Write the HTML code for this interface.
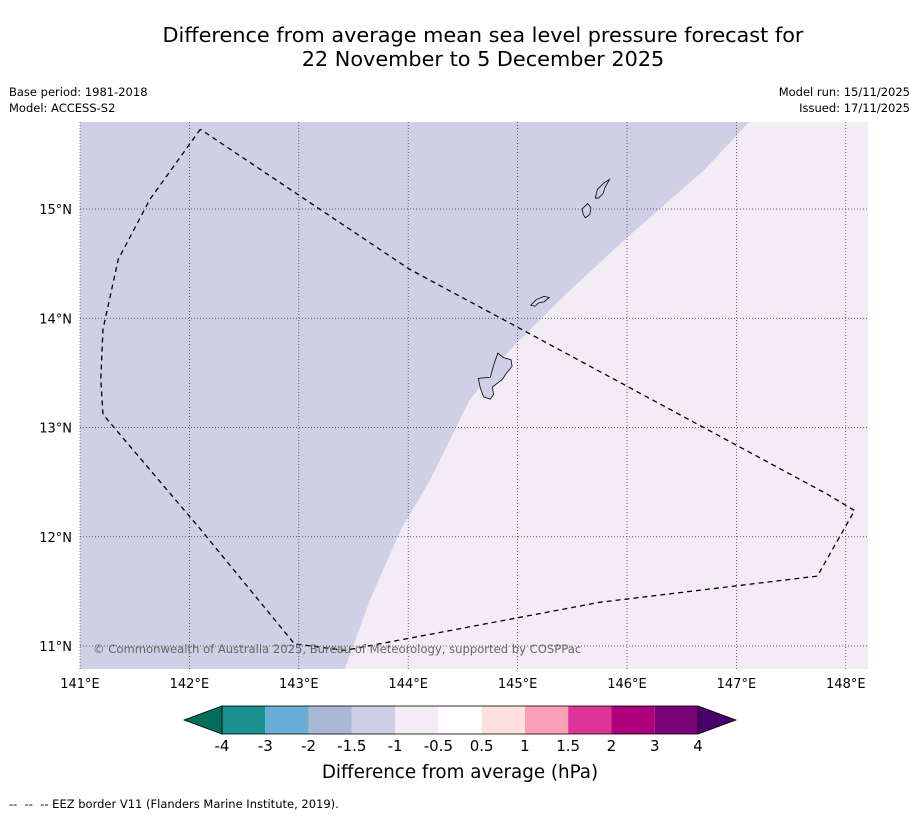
<!DOCTYPE html>
<html><head><meta charset="utf-8"><style>
body{margin:0;background:#fff;font-family:"Liberation Sans","DejaVu Sans",sans-serif;}
svg text{font-family:"DejaVu Sans","Liberation Sans",sans-serif;}
</style></head><body>
<svg id="c" width="919" height="816" viewBox="0 0 919 816" xmlns="http://www.w3.org/2000/svg">
<rect width="919" height="816" fill="#fff"/>
<text x="483" y="42" font-size="20.8" text-anchor="middle">Difference from average mean sea level pressure forecast for</text>
<text x="483" y="66" font-size="20.8" text-anchor="middle">22 November to 5 December 2025</text>
<text x="9" y="96" font-size="11.5">Base period: 1981-2018</text>
<text x="9" y="112" font-size="11.5">Model: ACCESS-S2</text>
<text x="910" y="96" font-size="11.5" text-anchor="end">Model run: 15/11/2025</text>
<text x="910" y="112" font-size="11.5" text-anchor="end">Issued: 17/11/2025</text>
<g id="map"></g>
<g id="cbar"></g>
<text x="460" y="778" font-size="18.3" text-anchor="middle">Difference from average (hPa)</text>
<text x="9" y="808" font-size="11.5" xml:space="preserve" style="white-space:pre">--  --  -- EEZ border V11 (Flanders Marine Institute, 2019).</text>
</svg>
<script>
// data (lon/lat)
const lonTicks=[141,142,143,144,145,146,147,148];
const latTicks=[11,12,13,14,15];
const anomalyBoundary=[[147.12,15.8],[146.71,15.36],[145.98,14.72],[145.43,14.21],[144.93,13.71],[144.56,13.25],[144.2,12.52],[143.93,12.06],[143.65,11.42],[143.42,10.79]];
const eez=[[142.1,15.73],[141.64,15.09],[141.35,14.54],[141.21,13.9],[141.19,13.44],[141.21,13.12],[142.1,12.07],[142.96,11.02],[143.42,10.96],[143.74,11.02],[145.75,11.4],[147.74,11.64],[148.08,12.24],[147.83,12.39],[145.2,13.81],[144.01,14.45],[142.1,15.73]];
const guam=[[144.64,13.45],[144.66,13.36],[144.69,13.28],[144.75,13.26],[144.78,13.3],[144.77,13.37],[144.86,13.44],[144.9,13.5],[144.95,13.56],[144.94,13.62],[144.87,13.64],[144.82,13.68],[144.79,13.6],[144.75,13.46],[144.64,13.45]];
const rota=[[145.12,14.12],[145.17,14.17],[145.24,14.2],[145.29,14.19],[145.24,14.15],[145.19,14.14],[145.16,14.11],[145.12,14.12]];
const tinian=[[145.6,14.95],[145.59,15.0],[145.64,15.05],[145.67,15.01],[145.66,14.95],[145.62,14.92],[145.6,14.95]];
const saipan=[[145.71,15.1],[145.73,15.18],[145.79,15.24],[145.84,15.27],[145.8,15.2],[145.78,15.14],[145.74,15.1],[145.71,15.1]];
const classColors=["#1a9090","#6aaed6","#a9b8d6","#cfd0e6","#f3ecf5","#ffffff","#fde0dd","#f9a0b8","#dd3497","#ae017e","#7a0177"];
const classLabels=["-4","-3","-2","-1.5","-1","-0.5","0.5","1","1.5","2","3","4"];
const NS="http://www.w3.org/2000/svg";
const X0=80,X1=868,Y0=122,Y1=669;
const xs=lon=>80+(lon-141)*109.4;
const ys=lat=>209+(15-lat)*109.25;
function mk(t,a,p){const e=document.createElementNS(NS,t);for(const k in a)e.setAttribute(k,a[k]);p.appendChild(e);return e;}
const map=document.getElementById('map');
const defs=mk('defs',{},map);const cp=mk('clipPath',{id:'clip'},defs);mk('rect',{x:X0,y:Y0,width:X1-X0,height:Y1-Y0},cp);
const bg=mk('rect',{x:X0,y:Y0,width:X1-X0,height:Y1-Y0,fill:"#cfd0e6"},map);

let pts=anomalyBoundary.map(p=>xs(p[0])+','+ys(p[1])).join(' ')+` ${X1},${Y1} ${X1},${Y0}`;
const pos=mk('polygon',{points:pts,fill:"#f3ecf5","clip-path":"url(#clip)"},map);

lonTicks.forEach(l=>{const g=mk('line',{x1:xs(l),x2:xs(l),y1:Y0,y2:Y1,stroke:"#333","stroke-width":0.7,"stroke-dasharray":"1,2"},map);

const t=mk('text',{x:xs(l),y:688,"font-size":13,"text-anchor":"middle"},map);t.textContent=l+'°E';
});
latTicks.forEach(l=>{const g=mk('line',{x1:X0,x2:X1,y1:ys(l),y2:ys(l),stroke:"#333","stroke-width":0.7,"stroke-dasharray":"1,2"},map);

const t=mk('text',{x:72,y:ys(l)+5,"font-size":13,"text-anchor":"end"},map);t.textContent=l+'°N';
});
[guam,rota,tinian,saipan].forEach(isl=>{const p=mk('polygon',{points:isl.map(q=>xs(q[0])+','+ys(q[1])).join(' '),fill:"#cfd0e6",stroke:"#000","stroke-width":0.8},map);
});
const e=mk('polyline',{points:eez.map(q=>xs(q[0])+','+ys(q[1])).join(' '),fill:"none",stroke:"#000","stroke-width":1.3,"stroke-dasharray":"5,4"},map);

const cr=mk('text',{x:93,y:653,"font-size":11.6,fill:"#666"},map);cr.textContent="© Commonwealth of Australia 2025, Bureau of Meteorology, supported by COSPPac";

// colorbar
const cb=document.getElementById('cbar');const L=222,R=698,T=706,B=734,w=(R-L)/classColors.length;
const lt=mk('polygon',{points:`${L},${T} ${L},${B} 184,${(T+B)/2}`,fill:"#006d5e",stroke:"#000","stroke-width":0.8},cb);

const rt=mk('polygon',{points:`${R},${T} ${R},${B} 736,${(T+B)/2}`,fill:"#49006a",stroke:"#000","stroke-width":0.8},cb);

classColors.forEach((c,i)=>{const r=mk('rect',{x:L+i*w,y:T,width:w,height:B-T,fill:c},cb);
});
mk('rect',{x:L,y:T,width:R-L,height:B-T,fill:"none",stroke:"#000","stroke-width":0.8},cb);
classLabels.forEach((s,i)=>{const t=mk('text',{x:L+i*w,y:751,"font-size":15,"text-anchor":"middle"},cb);t.textContent=s;
});
</script>
</body></html>
